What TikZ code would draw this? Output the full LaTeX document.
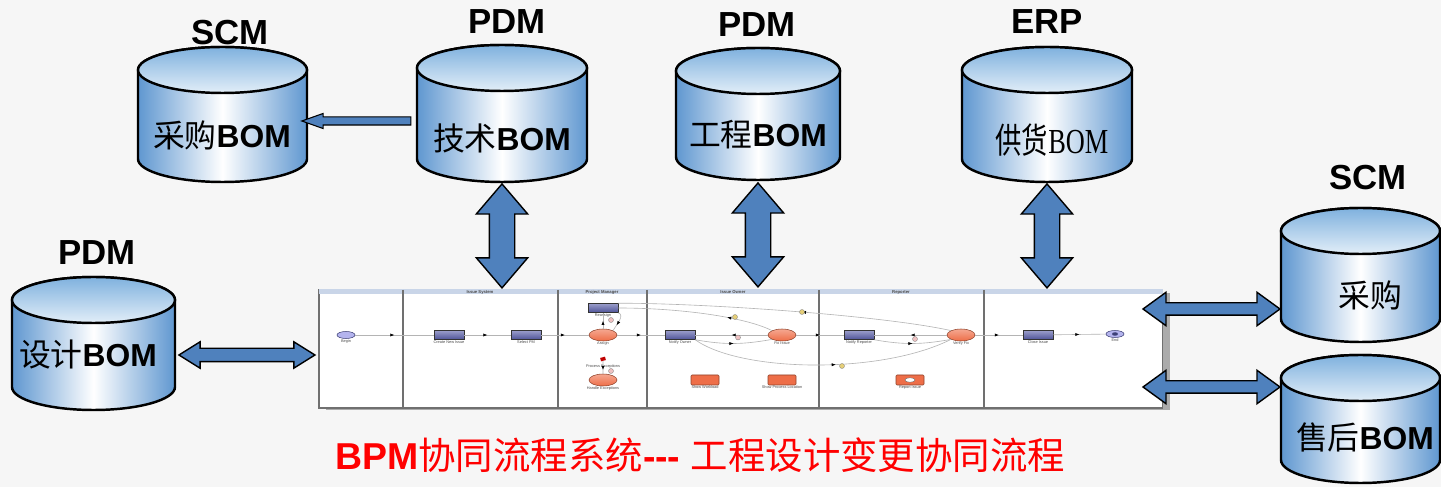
\documentclass[tikz,border=0pt]{standalone}
\usepackage{fontspec}
\usepackage{graphicx}
\setmainfont{Liberation Sans}
\newfontfamily\cjk{Noto Sans CJK SC}
\newfontfamily\bomserif{Liberation Serif}
\usepackage{tikz}
\usetikzlibrary{positioning,calc,arrows.meta,shapes.geometric,shapes.arrows,shadows,decorations.markings}
\definecolor{paper}{HTML}{F6F6F6}
\definecolor{cylblue}{HTML}{5F97D0}
\definecolor{cyltop}{HTML}{7FB1DE}
\definecolor{cyllight}{HTML}{E2EEF8}
\definecolor{arrowblue}{HTML}{4F81BD}
\definecolor{titlered}{HTML}{FF0000}
\definecolor{taskblue}{HTML}{575CA8}
\definecolor{actorange}{HTML}{EE6E48}
\definecolor{evlilac}{HTML}{B4B4EE}
\definecolor{lanehead}{HTML}{C9D5E8}
\definecolor{laneline}{HTML}{707070}
\definecolor{flowgray}{HTML}{B4B4B4}
\definecolor{markyel}{HTML}{E6CF78}
\definecolor{markpink}{HTML}{EFC2C2}
\tikzset{
  cylbody/.style={draw=black, line width=1.4pt, left color=cylblue, right color=cylblue, middle color=white},
  cyltop/.style={draw=black, line width=1.4pt, top color=cyltop, bottom color=cyllight},
  cylbox/.style={inner sep=0pt, draw=none},
  sysname/.style={font=\fontsize{19.8}{22}\selectfont\bfseries},
  bomtxt/.style={font=\fontsize{18.1}{20}\selectfont},
  blockarrow/.style={draw=black, line width=0.8pt, fill=arrowblue, inner xsep=0pt},
  bigdbl/.style={blockarrow, double arrow, rotate=90, inner ysep=0.24cm, minimum height=2.08cm,
    double arrow head extend=0.26cm, double arrow tip angle=81},
  leftdbl/.style={blockarrow, double arrow, inner ysep=0.12cm, minimum height=2.72cm,
    double arrow head extend=0.13cm, double arrow tip angle=64},
  rightdbl/.style={blockarrow, double arrow, inner ysep=0.11cm, minimum height=2.74cm,
    double arrow head extend=0.21cm, double arrow tip angle=72},
  feedarrow/.style={blockarrow, line width=0.6pt, single arrow, rotate=180, inner ysep=0.07cm,
    minimum height=2.18cm, single arrow head extend=0.07cm, single arrow tip angle=39},
  bpmframe/.style={draw=laneline, line width=0.6pt, fill=white, inner sep=0pt,
    drop shadow={shadow xshift=0.14cm, shadow yshift=-0.05cm, fill=black, opacity=0.3}},
  lanesep/.style={draw=laneline, line width=0.9pt},
  lanename/.style={font=\fontsize{2.4}{2.6}\selectfont\bfseries, text=black!70, inner sep=0pt},
  task/.style={draw=black!80, line width=0.3pt, top color=taskblue!60, bottom color=taskblue!90!black,
    minimum width=0.6cm, minimum height=0.18cm, inner sep=0pt},
  act/.style={ellipse, draw=actorange!60!black, line width=0.3pt, top color=actorange!60, bottom color=actorange,
    minimum width=0.56cm, minimum height=0.24cm, inner sep=0pt},
  evt/.style={ellipse, draw=taskblue!70!black, line width=0.3pt, fill=evlilac,
    minimum width=0.36cm, minimum height=0.14cm, inner sep=0pt},
  uibox/.style={draw=actorange!60!black, line width=0.3pt, fill=actorange, rounded corners=0.6pt,
    minimum width=0.56cm, minimum height=0.2cm, inner sep=0pt},
  tinylbl/.style={font=\fontsize{2.2}{2.4}\selectfont, text=black!70, inner sep=0.3pt},
  mk/.style={circle, draw=black!50, line width=0.2pt, fill=#1, minimum size=0.1cm, inner sep=0pt},
  flow/.style={draw=flowgray, line width=0.35pt, postaction={decorate},
    decoration={markings, mark=at position #1 with {\arrow[black]{Latex[length=2.4pt,width=1.8pt]}}}},
  flow/.default=0.5,
  titletxt/.style={text=titlered, font=\fontsize{21.3}{24}\selectfont, inner sep=0pt}
}
% cylinder: name, centre x, top-ellipse y, bottom-ellipse y, x radius
\newcommand{\dbcyl}[5]{%
  \path[cylbody] ({#2-#5},#3) -- ({#2-#5},#4)
    arc[start angle=180, end angle=360, x radius={#5*0.02cm}, y radius=0.46cm]
    -- ({#2+#5},#3)
    arc[start angle=0, end angle=180, x radius={#5*0.02cm}, y radius=0.46cm] -- cycle;
  \path[cyltop] (#2,#3) ellipse [x radius={#5*0.02cm}, y radius=0.46cm];
  \node[cylbox, minimum width={#5*0.04cm}, minimum height={(#3-#4+46)*0.02cm}] (#1) at (#2,{(#3+#4)/2}) {};
}

\begin{document}
\begin{tikzpicture}[x=0.02cm,y=0.02cm]
  \useasboundingbox (0,0) rectangle (1441,487);
  \fill[paper] (0,0) rectangle (1441,487);

  % databases
  \dbcyl{cgbom}{222.5}{417}{328}{84.5}
  \dbcyl{jsbom}{502}{419}{328}{85}
  \dbcyl{gcbom}{758}{416}{330}{82}
  \dbcyl{ghbom}{1047}{417}{328}{85}
  \dbcyl{sjbom}{93.5}{187}{100}{81.5}
  \dbcyl{cgsup}{1360.5}{256}{168}{79.5}
  \dbcyl{shbom}{1360.5}{109}{27}{79.5}

  \node[sysname] (scmA) at (230,454) {SCM};
  \node[sysname] (pdmA) at (507,465) {PDM};
  \node[sysname] (pdmB) at (757,462) {PDM};
  \node[sysname] (erpA) at (1047,465) {ERP};
  \node[sysname] (pdmC) at (97,234) {PDM};
  \node[sysname] (scmB) at (1368,309) {SCM};

  \node[bomtxt] (cgtxt) at (222,352) {{\cjk 采购}\textbf{BOM}};
  \node[bomtxt] (jstxt) at (502,349) {{\cjk 技术}\textbf{BOM}};
  \node[bomtxt] (gctxt) at (758,352) {{\cjk 工程}\textbf{BOM}};
  \node[bomtxt] (ghtxt) at (1052,347) {\scalebox{0.75}[1]{\fontsize{20}{22}\selectfont{\cjk 供货}{\bomserif BOM}}};
  \node[bomtxt] (sjtxt) at (88,132) {{\cjk 设计}\textbf{BOM}};
  \node[bomtxt] (cg2txt) at (1370,192) {{\cjk 采购}};
  \node[bomtxt] (shtxt) at (1365,50) {{\cjk 售后}\textbf{BOM}};

  % BPM screenshot
  \node[bpmframe, minimum width=16.88cm, minimum height=2.36cm] (bpm) at (741,138) {};
  \fill[lanehead] (bpm.north west) rectangle ([yshift=-0.09cm]bpm.north east);
  \draw[lanesep] (bpm.north west) -- (bpm.south west);
  \foreach \lx in {403,558,647,819,984}
    \draw[lanesep] (\lx,197) -- (\lx,79);
  \node[lanename] (laneIS) at (480,194.8) {Issue System};
  \node[lanename] (lanePM) at (602,194.8) {Project Manager};
  \node[lanename] (laneIO) at (733,194.8) {Issue Owner};
  \node[lanename] (laneRP) at (901,194.8) {Reporter};

  \node[evt] (begin) at (346,152) {};
  \node[task] (create) at (449,152) {};
  \node[task] (selpm) at (526,152) {};
  \node[act] (assign) at (603,152) {};
  \node[task] (reassign) at (603,179) {};
  \node[fill=red!75!black, minimum width=0.1cm, minimum height=0.07cm, inner sep=0pt, rotate=15] (pexc) at (603,128) {};
  \node[act] (handle) at (603,107) {};
  \node[task] (nowner) at (680,152) {};
  \node[act] (fix) at (782,152) {};
  \node[task] (nrep) at (859,152) {};
  \node[act] (verify) at (961,152) {};
  \node[task] (close) at (1038,152) {};
  \node[evt] (end) at (1115,153) {};
  \node[ellipse, fill=taskblue!70!black, minimum width=0.12cm, minimum height=0.07cm, inner sep=0pt] (endc) at (end) {};
  \node[uibox] (showwl) at (705,107) {};
  \node[uibox] (showpl) at (782,107) {};
  \node[uibox] (report) at (910,107) {};
  \node[ellipse, fill=white, draw=black!60, line width=0.2pt, minimum width=0.2cm, minimum height=0.09cm, inner sep=0pt] (repc) at (report) {};

  \node[tinylbl, below=0pt of begin] (beginL) {Begin};
  \node[tinylbl, below=0pt of create] (createL) {Create New Issue};
  \node[tinylbl, below=0pt of selpm] (selpmL) {Select PM};
  \node[tinylbl, below=0pt of assign] (assignL) {Assign};
  \node[tinylbl, below=0pt of reassign] (reassignL) {Reassign};
  \node[tinylbl] (pexcL) at (603,120) {Process Exceptions};
  \node[tinylbl, below=0pt of handle] (handleL) {Handle Exceptions};
  \node[tinylbl, below=0pt of nowner] (nownerL) {Notify Owner};
  \node[tinylbl, below=0pt of fix] (fixL) {Fix Issue};
  \node[tinylbl, below=0pt of nrep] (nrepL) {Notify Reporter};
  \node[tinylbl, below=0pt of verify] (verifyL) {Verify Fix};
  \node[tinylbl, below=0pt of close] (closeL) {Close Issue};
  \node[tinylbl, below=0pt of end] (endL) {End};
  \node[tinylbl, below=0pt of showwl] (showwlL) {Show Workload};
  \node[tinylbl, below=0pt of showpl] (showplL) {Show Process Location};
  \node[tinylbl, below=0pt of report] (reportL) {Report Issue};

  \draw[flow] (begin) -- (create);
  \draw[flow] (create) -- (selpm);
  \draw[flow] (selpm) -- (assign);
  \draw[flow] (assign) -- (nowner);
  \draw[flow] (assign) -- (reassign);
  \draw[flow=0.7] (reassign.south east) to[out=-20, in=60] (assign.north east);
  \draw[flow=0.7] (pexc) -- (handle);
  \draw[flow] (fix.west) -- (nowner.east);
  \draw[flow] (nowner.south east) to[out=-10, in=190] (fix.south west);
  \draw[flow] (fix) -- (nrep);
  \draw[flow] (verify.west) -- (nrep.east);
  \draw[flow] (nrep.south east) to[out=-10, in=190] (verify.south west);
  \draw[flow] (verify) -- (close);
  \draw[flow] (close) -- (end);
  \draw[flow=0.3] (fix.north west) .. controls (745,170) and (680,179) .. (reassign.east);
  \draw[flow=0.45] (verify.north west) .. controls (880,172) and (700,184) .. (reassign.north east);
  \draw[flow=0.55] (nowner.south east) .. controls (740,115) and (880,112) .. (verify.south west);
  \node[mk=markpink] (mk1) at (611,167) {};
  \node[mk=markpink] (mk2) at (611,116) {};
  \node[mk=markpink] (mk3) at (738,149.5) {};
  \node[mk=markpink] (mk4) at (915,148) {};
  \node[mk=markyel] (mk5) at (735,170) {};
  \node[mk=markyel] (mk6) at (802,175) {};
  \node[mk=markyel] (mk7) at (842,121) {};

  % block arrows
  \node[feedarrow] (toscm) at ($(cgbom.east)!0.5!(jsbom.west)+(0,-7)$) {};
  \node[bigdbl] (jsbpm) at ($(jsbom.south)!0.5!(jsbom.south |- bpm.north)$) {};
  \node[bigdbl] (gcbpm) at ($(gcbom.south)!0.5!(gcbom.south |- bpm.north)$) {};
  \node[bigdbl] (ghbpm) at ($(ghbom.south)!0.5!(ghbom.south |- bpm.north)$) {};
  \node[leftdbl] (sjbpm) at ($(sjbom.east |- sjtxt)!0.5!(bpm.west |- sjtxt)$) {};
  \node[rightdbl] (bpmcg) at (1211.5,178) {};
  \node[rightdbl] (bpmsh) at (1211.5,100) {};

  \node[titletxt, anchor=west] (title) at (335,32)
    {\textbf{BPM}{\cjk 协同流程系统}\textbf{{-}{-}{-}} {\cjk 工程设计变更协同流程}};
\end{tikzpicture}
\end{document}
